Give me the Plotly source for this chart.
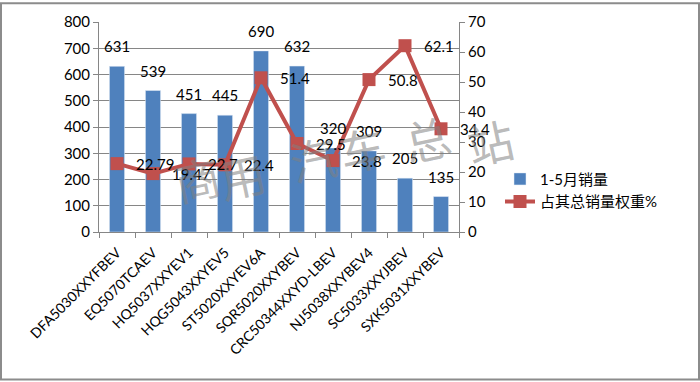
import plotly.graph_objects as go

categories = ["DFA5030XXYFBEV", "EQ5070TCAEV", "HQ5037XXYEV1", "HQG5043XXYEV5",
              "ST5020XXYEV6A", "SQR5020XXYBEV", "CRC50344XXYD-LBEV", "NJ5038XXYBEV4",
              "SC5033XXYJBEV", "SXK5031XXYBEV"]
sales = [631, 539, 451, 445, 690, 632, 320, 309, 205, 135]
share = [22.79, 19.47, 22.7, 22.4, 51.4, 29.5, 23.8, 50.8, 62.1, 34.4]
left_ticks = [0, 100, 200, 300, 400, 500, 600, 700, 800]
right_ticks = [0, 10, 20, 30, 40, 50, 60, 70]
watermark_chars = ["商", "用", "汽", "车", "总", "站"]
watermark_px = [(197, 177), (242, 174), (313, 157), (362, 147), (427, 137), (490, 140)]

W, H = 700, 382
ML, MR, MT, MB = 99, 241, 20, 150
PW, PH = W - ML - MR, H - MT - MB

FONT = "Lato, 'Noto Sans CJK SC', sans-serif"
BAR = "#4F81BD"
LINE = "#C0504D"
GRID = "#868686"

fig = go.Figure()
fig.add_trace(go.Bar(x=categories, y=sales, name="1-5月销量", marker_color=BAR,
                     width=0.42, yaxis="y"))
fig.add_trace(go.Scatter(x=categories, y=share, name="占其总销量权重%", yaxis="y2",
                         mode="lines+markers",
                         line=dict(color=LINE, width=4),
                         marker=dict(symbol="square", size=13, color=LINE)))

ann = []
for c, v in zip(categories, sales):
    ann.append(dict(x=c, y=v, xref="x", yref="y", text=str(v), showarrow=False,
                    yanchor="bottom", yshift=9, font=dict(size=15, color="#000")))
for c, v in zip(categories, share):
    ann.append(dict(x=c, y=v, xref="x", yref="y2", text=str(v), showarrow=False,
                    xanchor="left", xshift=17, font=dict(size=15, color="#000")))
# watermark
for ch, (px, py) in zip(watermark_chars, watermark_px):
    ann.append(dict(x=(px - ML) / PW, y=(MT + PH - py) / PH, xref="paper", yref="paper",
                    xanchor="center", yanchor="middle",
                    text=ch, showarrow=False, textangle=-12,
                    font=dict(size=46, color="rgba(128,128,128,0.55)",
                              family="Noto Sans CJK SC")))

fig.update_layout(
    width=W, height=H, autosize=False,
    margin=dict(l=ML, r=MR, t=MT, b=MB),
    paper_bgcolor="white", plot_bgcolor="white",
    font=dict(family=FONT, size=15, color="#000"),
    xaxis=dict(type="category", tickangle=-45, tickfont=dict(size=14),
               showline=True, linecolor=GRID, linewidth=1, ticklabelstandoff=6,
               ticks="outside", ticklen=5, tickcolor=GRID, tickson="boundaries",
               showgrid=False, range=[-0.5, 9.5]),
    yaxis=dict(range=[0, 800], tickvals=left_ticks, showgrid=True, gridcolor=GRID,
               gridwidth=1, showline=True, linecolor=GRID, ticks="outside",
               ticklen=5, tickcolor=GRID, zeroline=False, tickfont=dict(size=15)),
    yaxis2=dict(range=[0, 70], tickvals=right_ticks, overlaying="y", side="right",
                showgrid=False, showline=True, linecolor=GRID, ticks="outside",
                ticklen=5, tickcolor=GRID, zeroline=False, tickfont=dict(size=15)),
    legend=dict(x=(500 - ML) / PW, y=(MT + PH - 162) / PH, xanchor="left",
                yanchor="top", bgcolor="rgba(0,0,0,0)", font=dict(size=15),
                tracegroupgap=4),
    annotations=ann,
    showlegend=True,
    shapes=[dict(type="rect", xref="paper", yref="paper",
                 x0=(1 - ML) / PW, x1=(W - 1 - ML) / PW,
                 y0=-(MB - 1) / PH, y1=(PH + MT - 1) / PH,
                 line=dict(color="#8c8c8c", width=2), fillcolor="rgba(0,0,0,0)")],
)

fig.write_html("out.html", config={"displayModeBar": False},
               post_script="document.body.style.margin='0';document.body.style.overflow='hidden';")
